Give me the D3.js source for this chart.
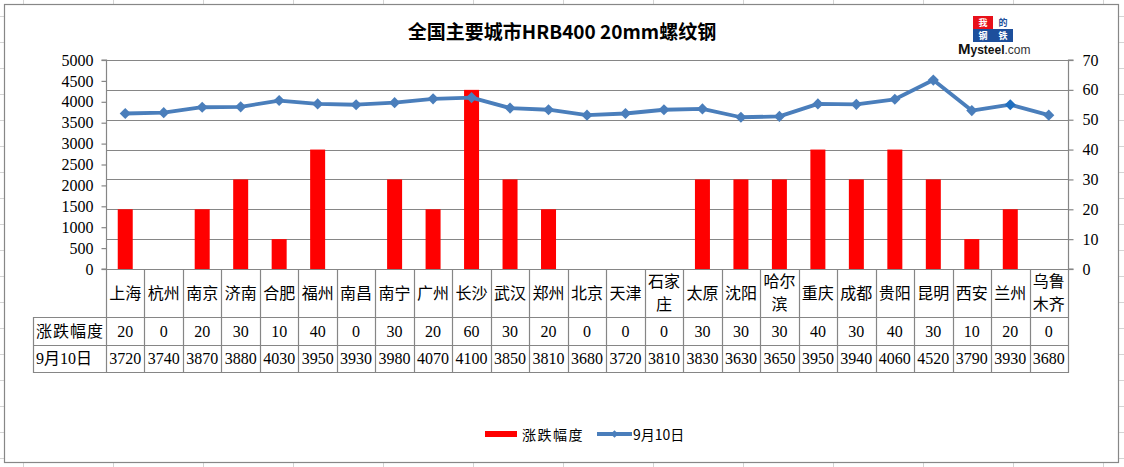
<!DOCTYPE html>
<html><head><meta charset="utf-8">
<script src="https://cdn.jsdelivr.net/npm/d3@7"></script>
<style>
html,body{margin:0;padding:0;background:#fff;}
svg{display:block;}
</style></head>
<body>
<svg id="c" width="1124" height="467"></svg>
<script>
const cities = ["上海","杭州","南京","济南","合肥","福州","南昌","南宁","广州","长沙","武汉","郑州","北京","天津","石家\n庄","太原","沈阳","哈尔\n滨","重庆","成都","贵阳","昆明","西安","兰州","乌鲁\n木齐"];
const changeVals = [20,0,20,30,10,40,0,30,20,60,30,20,0,0,0,30,30,30,40,30,40,30,10,20,0];
const priceVals = [3720,3740,3870,3880,4030,3950,3930,3980,4070,4100,3850,3810,3680,3720,3810,3830,3630,3650,3950,3940,4060,4520,3790,3930,3680];
const leftTicks = [0,500,1000,1500,2000,2500,3000,3500,4000,4500,5000];
const rightTicks = [0,10,20,30,40,50,60,70];
const seriesNames = ["涨跌幅度","9月10日"];
const titleText = "全国主要城市HRB400 20mm螺纹钢";

const svg = d3.select("#c");
const W = 1124, H = 467;
const gridC = "#868686";
const serif = "'Liberation Serif','Noto Sans CJK SC',serif";
const cjk = "'Noto Sans CJK SC',sans-serif";

// spreadsheet background grid
const bg = svg.append("g");
for (let x = 23; x < W; x += 90) bg.append("line").attr("x1",x+0.5).attr("x2",x+0.5).attr("y1",0).attr("y2",H).attr("stroke","#d4d4d4");
for (let y = 16; y < H; y += 26) bg.append("line").attr("x1",0).attr("x2",W).attr("y1",y+0.5).attr("y2",y+0.5).attr("stroke","#d4d4d4");

// chart area
svg.append("rect").attr("x",4.5).attr("y",4.5).attr("width",1114).attr("height",458)
  .attr("fill","#fff").attr("stroke","#878787").attr("stroke-width",1.2);

const L = 106, R = 1068, T = 60, B = 269;
const x = d3.scaleBand().domain(d3.range(cities.length)).range([L,R]).paddingInner(0).paddingOuter(0);
const yL = d3.scaleLinear().domain([0,5000]).range([B,T]);
const yR = d3.scaleLinear().domain([0,70]).range([B,T]);

// gridlines
svg.append("g").selectAll("line").data(rightTicks.filter(d=>d>0)).join("line")
  .attr("x1",L).attr("x2",R).attr("y1",d=>Math.round(yR(d))+0.5).attr("y2",d=>Math.round(yR(d))+0.5)
  .attr("stroke",gridC).attr("stroke-width",1.2);

// axes
const axL = svg.append("g").attr("transform",`translate(${L+0.5},0)`)
  .call(d3.axisLeft(yL).tickValues(leftTicks).tickSize(5).tickPadding(8).tickFormat(d3.format("d")));
const axR = svg.append("g").attr("transform",`translate(${R+0.5},0)`)
  .call(d3.axisRight(yR).tickValues(rightTicks).tickSize(5).tickPadding(9).tickFormat(d3.format("d")));
[axL,axR].forEach(a=>{
  a.select(".domain").attr("stroke",gridC).attr("stroke-width",1.2).attr("d", a===axL ? `M-5,${T}H0V${B}H-5` : `M5,${T}H0V${B}H5`);
  a.selectAll(".tick line").attr("stroke",gridC).attr("stroke-width",1.2);
  a.selectAll(".tick text").attr("font-family",serif).attr("font-size",16).attr("fill","#000");
});

// bars
svg.append("g").selectAll("rect").data(changeVals).join("rect")
  .attr("x",(d,i)=>x(i)+x.bandwidth()/2-7.5).attr("width",15)
  .attr("y",d=>yR(d)).attr("height",d=>B-yR(d)).attr("fill","#ff0000");

// line
const lineColor = "#4a7ebb";
const cx = i => x(i)+x.bandwidth()/2;
svg.append("path").datum(priceVals)
  .attr("d", d3.line().x((d,i)=>cx(i)).y(d=>yL(d)))
  .attr("fill","none").attr("stroke",lineColor).attr("stroke-width",3.8).attr("stroke-linejoin","round");
const diamond = d3.symbol(d3.symbolSquare, 62);
svg.append("g").selectAll("path").data(priceVals).join("path")
  .attr("d", diamond)
  .attr("transform",(d,i)=>`translate(${cx(i)},${yL(d)}) rotate(45)`)
  .attr("fill",(d,i)=> i===23 ? "#1f6fc0" : lineColor);

// data table
const tb = svg.append("g");
const tl = (x1,y1,x2,y2)=>tb.append("line").attr("x1",x1).attr("y1",y1).attr("x2",x2).attr("y2",y2).attr("stroke",gridC).attr("stroke-width",1.2);
tl(L, B+0.5, R, B+0.5);
tl(33, 317.5, R, 317.5);
tl(33, 345.5, R, 345.5);
tl(33, 372.5, R, 372.5);
tl(33.5, 317, 33.5, 373);
for (let i = 0; i <= cities.length; i++) { const xx = Math.round(L + i*x.bandwidth())+0.5; tl(xx, B, xx, 373); }

// categories
cities.forEach((c,i)=>{
  const parts = c.split("\n");
  const t = tb.append("text").attr("x",cx(i)).attr("text-anchor","middle")
    .attr("font-family",cjk).attr("font-size",16).attr("fill","#000");
  if (parts.length===1) t.append("tspan").attr("x",cx(i)).attr("y",299).text(parts[0]);
  else { t.append("tspan").attr("x",cx(i)).attr("y",286.5).text(parts[0]); t.append("tspan").attr("x",cx(i)).attr("y",310).text(parts[1]); }
});
// row headers
tb.append("text").attr("x",36).attr("y",337).attr("font-family",cjk).attr("font-size",16).attr("letter-spacing",1).text(seriesNames[0]);
tb.append("text").attr("x",36).attr("y",364).attr("font-family",serif).attr("font-size",16).text(seriesNames[1]);
changeVals.forEach((v,i)=> tb.append("text").attr("x",cx(i)).attr("y",337).attr("text-anchor","middle").attr("font-family",serif).attr("font-size",16).text(v));
priceVals.forEach((v,i)=> tb.append("text").attr("x",cx(i)).attr("y",364).attr("text-anchor","middle").attr("font-family",serif).attr("font-size",16).text(v));

// title
svg.append("text").attr("x",562).attr("y",39).attr("text-anchor","middle")
  .attr("font-family",cjk).attr("font-weight","bold").attr("font-size",19).attr("fill","#000").text(titleText);

// logo
const lg = svg.append("g");
const cells = [
  {t:"我", x:973, y:16, bg:"#e8101a", fg:"#fff"},
  {t:"的", x:993, y:16, bg:"#fff", fg:"#1d4f9c"},
  {t:"钢", x:973, y:29, bg:"#1d4f9c", fg:"#fff"},
  {t:"铁", x:993, y:29, bg:"#1d4f9c", fg:"#fff"}
];
cells.forEach(c=>{
  lg.append("rect").attr("x",c.x).attr("y",c.y).attr("width",20).attr("height",13).attr("fill",c.bg);
  lg.append("text").attr("x",c.x+10).attr("y",c.y+10).attr("text-anchor","middle")
    .attr("font-family","'Noto Sans CJK SC',serif").attr("font-weight","bold").attr("font-size",9).attr("fill",c.fg).text(c.t);
});
const lt = lg.append("text").attr("x",958).attr("y",54).attr("font-family","'Liberation Sans',Arial,sans-serif").attr("fill","#111");
lt.append("tspan").attr("font-size",15).attr("font-weight","bold").text("M");
lt.append("tspan").attr("font-size",12).attr("font-weight","bold").text("ysteel");
lt.append("tspan").attr("font-size",12).attr("fill","#333").text(".com");

// legend
const lgd = svg.append("g");
lgd.append("rect").attr("x",485).attr("y",431).attr("width",32).attr("height",6).attr("fill","#ff0000");
lgd.append("text").attr("x",522).attr("y",439.5).attr("font-family",cjk).attr("font-size",14).attr("letter-spacing",1.5).text(seriesNames[0]);
lgd.append("line").attr("x1",597).attr("x2",632).attr("y1",434).attr("y2",434).attr("stroke",lineColor).attr("stroke-width",3.8);
lgd.append("path").attr("d",d3.symbol(d3.symbolSquare,30)).attr("transform","translate(614.5,434) rotate(45)").attr("fill",lineColor);
lgd.append("text").attr("x",633).attr("y",439.5).attr("font-family",cjk).attr("font-size",14).text(seriesNames[1]);
</script>
</body></html>
